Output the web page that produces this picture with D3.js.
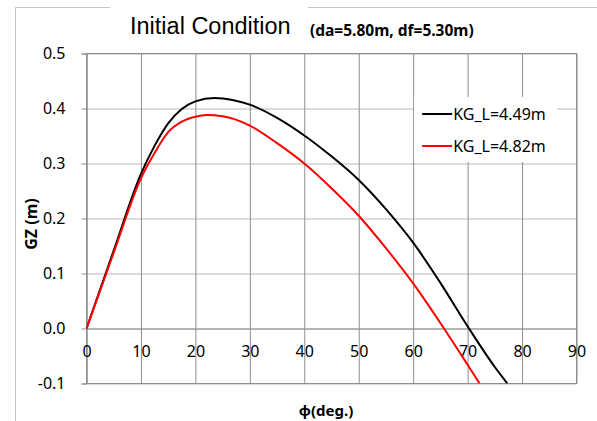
<!DOCTYPE html>
<html lang="en">
    <head>
        <meta charset="utf-8"/>
        <script src="https://d3js.org/d3.v7.min.js"></script>
        <style>
            body { margin: 0; background: #fff; }
            text { font-family: "Noto Sans", sans-serif; fill: #000; }
        </style>
    </head>
    <body>
        <div id="chart"></div>
    </body>
    <script>
        // values (phi in degrees, GZ in metres)
        var phi1 = [0, 5, 10, 12.5, 15, 17.5, 20, 23.5, 27, 30, 35, 40, 45, 50, 55, 60, 65, 70, 75, 77.3];
        var gz1  = [0, 0.142, 0.281, 0.332, 0.373, 0.399, 0.413, 0.419, 0.415, 0.407, 0.383, 0.351, 0.313, 0.270, 0.217, 0.156, 0.083, 0.004, -0.070, -0.1];
        var phi2 = [0, 5, 10, 12.5, 15, 17.5, 20, 22, 25, 30, 35, 40, 45, 50, 55, 60, 65, 70, 72.2];
        var gz2  = [0, 0.138, 0.273, 0.319, 0.357, 0.376, 0.385, 0.388, 0.386, 0.369, 0.337, 0.300, 0.255, 0.205, 0.146, 0.082, 0.010, -0.066, -0.1];
        var seriesNames = ["KG_L=4.49m", "KG_L=4.82m"];
        var seriesColors = ["#000000", "#ff0000"];
        var xTicks = [0, 10, 20, 30, 40, 50, 60, 70, 80, 90];
        var yTicks = [-0.1, 0.0, 0.1, 0.2, 0.3, 0.4, 0.5];

        var W = 597, H = 421;
        var margin = {top: 53.5, right: 20.5, bottom: 37.5, left: 86.5};
        var width = W - margin.left - margin.right;
        var height = H - margin.top - margin.bottom;

        var svg = d3.select("#chart")
            .append("svg")
                .attr("width", W)
                .attr("height", H);

        // outer chart frame (open at bottom/right)
        svg.append("path")
            .attr("d", "M15.5," + H + "V7.5H110M308,7.5H" + W)
            .attr("fill", "none")
            .attr("stroke", "#c4c4c4");

        svg.append("text")
            .attr("x", 130)
            .attr("y", 34)
            .style("font-family", "'Liberation Sans', Arial, sans-serif")
            .style("font-size", "23.5px")
            .text("Initial Condition");

        svg.append("text")
            .attr("x", 310)
            .attr("y", 36)
            .style("font-size", "15.5px")
            .style("font-weight", "bold")
            .text("(da=5.80m, df=5.30m)");

        var g = svg.append("g")
            .attr("transform", "translate(" + margin.left + "," + margin.top + ")");

        var x = d3.scaleLinear().domain([0, 90]).range([0, width]);
        var y = d3.scaleLinear().domain([-0.1, 0.5]).range([height, 0]);

        // horizontal grid
        g.append("g")
            .call(d3.axisLeft(y).tickValues(yTicks).tickSize(-width).tickFormat(""))
            .call(function (s) {
                s.select(".domain").remove();
                s.selectAll("line").attr("stroke", "#b8b8b8");
            });

        // vertical grid
        g.append("g")
            .call(d3.axisBottom(x).tickValues(xTicks).tickSize(height).tickFormat(""))
            .call(function (s) {
                s.select(".domain").remove();
                s.selectAll("line").attr("stroke", "#8e8e8e");
            });

        // plot border top/right/bottom
        g.append("rect")
            .attr("width", width)
            .attr("height", height)
            .attr("fill", "none")
            .attr("stroke", "#8e8e8e");

        // y axis with labels (hyphen minus like the original)
        g.append("g")
            .call(d3.axisLeft(y).tickValues(yTicks).tickSize(5).tickPadding(16)
                .tickFormat(function (d) { return d.toFixed(1); }))
            .call(function (s) {
                s.select(".domain").attr("stroke", "#8e8e8e");
                s.selectAll("line").attr("stroke", "#8e8e8e");
                s.selectAll("text").style("font-size", "16px").style("font-family", "'Noto Sans', sans-serif");
            });

        // x labels sit under the zero line
        g.append("g")
            .attr("transform", "translate(0," + y(0) + ")")
            .call(d3.axisBottom(x).tickValues(xTicks).tickSize(0).tickPadding(17))
            .call(function (s) {
                s.select(".domain").attr("stroke", "#8e8e8e");
                s.selectAll("text").style("font-size", "16px").style("font-family", "'Noto Sans', sans-serif");
            });

        g.append("text")
            .attr("transform", "translate(" + (31 - margin.left) + "," + (224 - margin.top) + ") rotate(-90)")
            .attr("text-anchor", "middle")
            .attr("dy", "0.35em")
            .style("font-size", "16px")
            .style("font-weight", "bold")
            .text("GZ (m)");

        g.append("text")
            .attr("x", 326 - margin.left)
            .attr("y", 416 - margin.top)
            .attr("text-anchor", "middle")
            .style("font-size", "15px")
            .style("font-weight", "bold")
            .text("\u03d5(deg.)");

        g.append("clipPath").attr("id", "clip")
            .append("rect").attr("width", width).attr("height", height);

        var line = d3.line()
            .x(function (d) { return x(d[0]); })
            .y(function (d) { return y(d[1]); })
            .curve(d3.curveMonotoneX);

        var series = [
            d3.zip(phi1, gz1),
            d3.zip(phi2, gz2)
        ];

        g.append("g").attr("clip-path", "url(#clip)")
            .selectAll("path")
            .data(series)
            .enter()
            .append("path")
                .attr("d", line)
                .attr("fill", "none")
                .attr("stroke-width", 2)
                .attr("stroke", function (d, i) { return seriesColors[i]; });

        // legend
        var lg = g.append("g").attr("transform", "translate(" + (x(60) + 1) + "," + (97 - margin.top) + ")");
        lg.append("rect")
            .attr("width", 143)
            .attr("height", 65)
            .attr("fill", "#fff");
        lg.selectAll("g")
            .data(seriesNames)
            .enter()
            .append("g")
                .attr("transform", function (d, i) { return "translate(0," + (17 + i * 32) + ")"; })
                .each(function (d, i) {
                    var e = d3.select(this);
                    e.append("line")
                        .attr("x1", 8).attr("x2", 38)
                        .attr("stroke", seriesColors[i])
                        .attr("stroke-width", 2);
                    e.append("text")
                        .attr("x", 39)
                        .attr("dy", "0.35em")
                        .style("font-size", "16px")
                        .text(d);
                });
    </script>
</html>
